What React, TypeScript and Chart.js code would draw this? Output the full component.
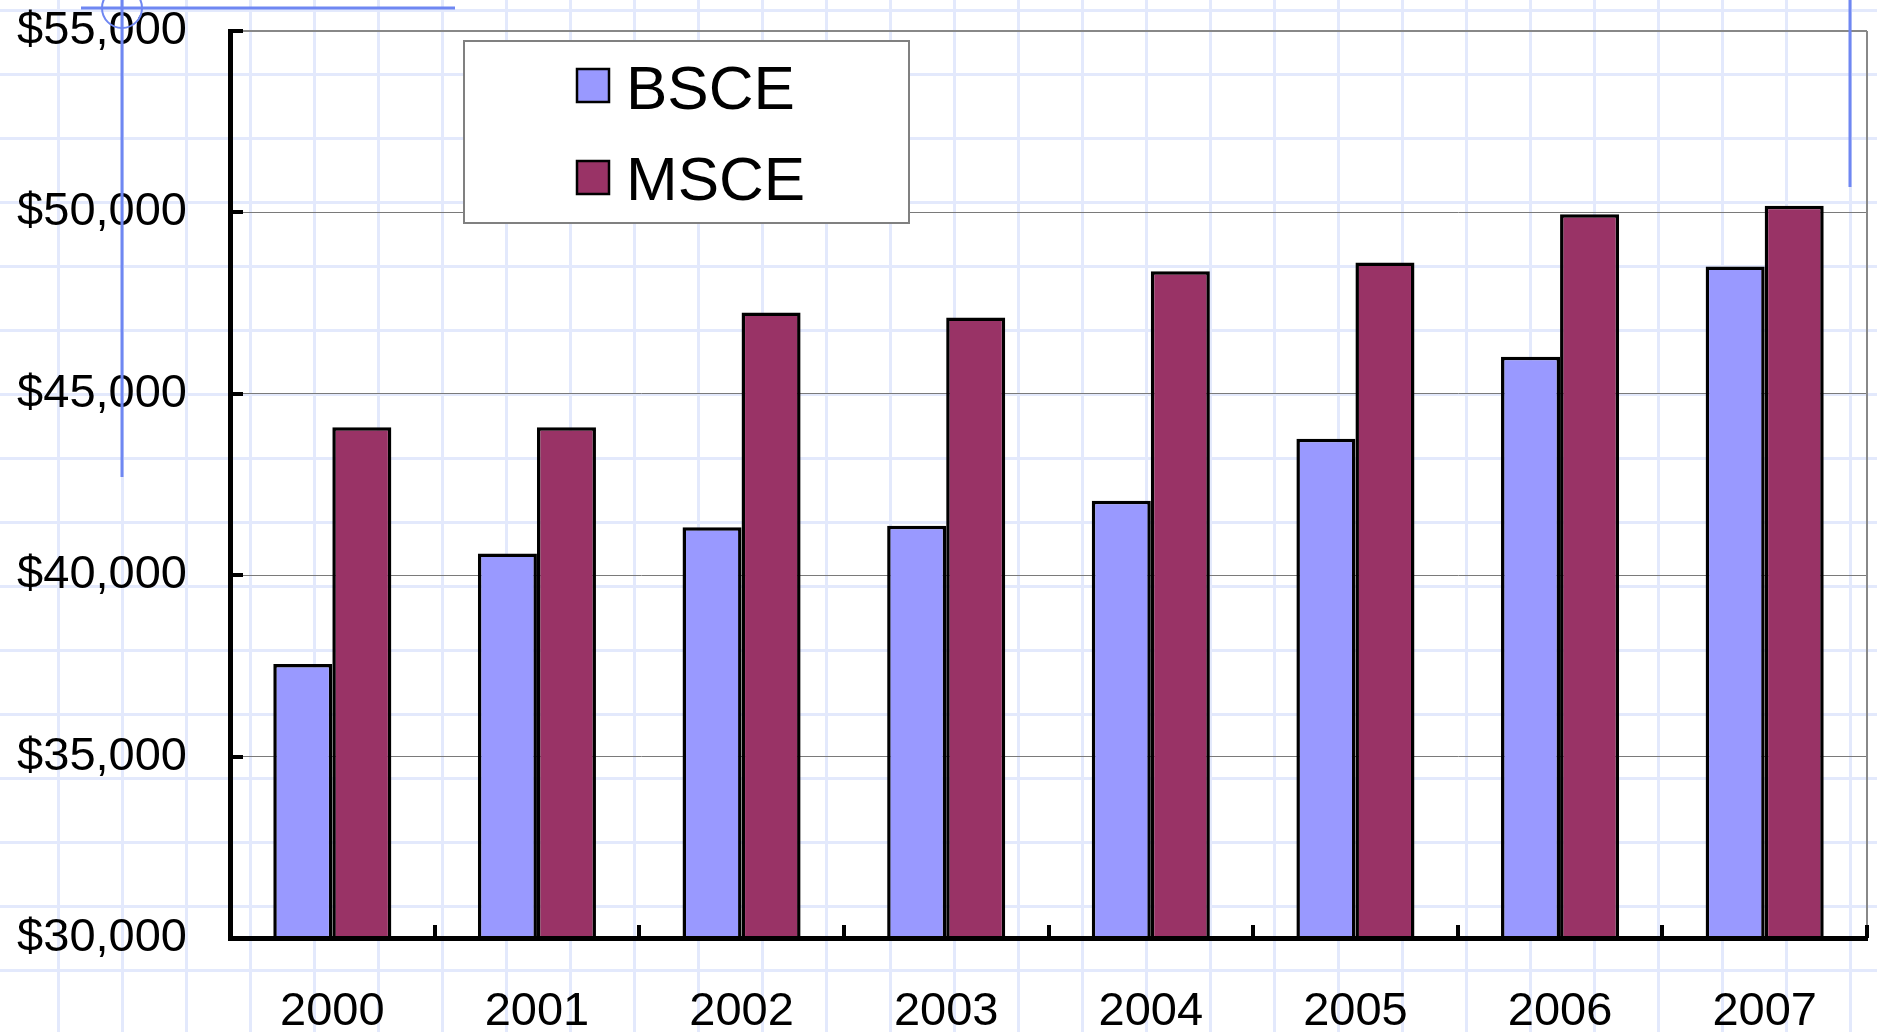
import React, { useEffect, useRef } from "react";
import { Chart, registerables } from "chart.js";

Chart.register(...registerables);

const years = ["2000", "2001", "2002", "2003", "2004", "2005", "2006", "2007"];
const seriesNames = ["BSCE", "MSCE"];
const bsceValues = [37550, 40600, 41320, 41360, 42050, 43760, 46020, 48510];
const msceValues = [44080, 44080, 47240, 47100, 48380, 48620, 49950, 50180];
const yMin = 30000;
const yMax = 55000;
const yStep = 5000;

const FONT = "'Liberation Sans', Arial, Helvetica, sans-serif";
const BLUE_LINE = "#6f87f2";

const framePlugin = {
  id: "frameDecor",
  afterDraw(chart: any) {
    const ctx = chart.ctx as CanvasRenderingContext2D;
    const area = chart.chartArea;
    const yScale = chart.scales.y;
    const n = chart.data.labels.length;
    ctx.save();
    // right gray border
    ctx.strokeStyle = "#888888";
    ctx.lineWidth = 2;
    ctx.beginPath();
    ctx.moveTo(area.right, area.top);
    ctx.lineTo(area.right, area.bottom);
    ctx.stroke();
    // y inward ticks
    ctx.fillStyle = "#000";
    for (let v = yMin; v <= yMax; v += yStep) {
      const y = Math.round(yScale.getPixelForValue(v));
      ctx.fillRect(area.left, y - 2, 13, 4);
    }
    // x upward ticks at category boundaries
    const w = (area.right - area.left) / n;
    for (let i = 1; i <= n; i++) {
      const x = Math.round(area.left + i * w);
      ctx.fillRect(x - 2, area.bottom - 13, 4, 13);
    }

    // legend box
    const lx = 464, ly = 41, lw = 445, lh = 182;
    ctx.fillStyle = "#ffffff";
    ctx.fillRect(lx, ly, lw, lh);
    ctx.strokeStyle = "#808080";
    ctx.lineWidth = 2;
    ctx.strokeRect(lx, ly, lw, lh);
    const ds = chart.data.datasets;
    const baselines = [109, 200];
    const markerTops = [69, 161];
    ctx.font = `62px ${FONT}`;
    ctx.textBaseline = "alphabetic";
    ctx.textAlign = "left";
    ds.forEach((d: any, i: number) => {
      ctx.fillStyle = d.backgroundColor;
      ctx.fillRect(577, markerTops[i], 32, 33);
      ctx.strokeStyle = "#000";
      ctx.lineWidth = 2.5;
      ctx.strokeRect(577, markerTops[i], 32, 33);
      ctx.fillStyle = "#000";
      ctx.fillText(d.label, 626, baselines[i]);
    });

    // blue decorative strokes
    ctx.strokeStyle = BLUE_LINE;
    ctx.lineWidth = 3;
    ctx.beginPath();
    ctx.moveTo(81, 8);
    ctx.lineTo(455, 8);
    ctx.stroke();
    ctx.beginPath();
    ctx.moveTo(122, 0);
    ctx.lineTo(122, 477);
    ctx.stroke();
    ctx.lineWidth = 2;
    ctx.beginPath();
    ctx.arc(122, 8, 20, 0, Math.PI * 2);
    ctx.stroke();
    ctx.lineWidth = 3;
    ctx.beginPath();
    ctx.moveTo(1850, 0);
    ctx.lineTo(1850, 187);
    ctx.stroke();
    ctx.restore();
  },
};

export default function App() {
  const canvasRef = useRef<HTMLCanvasElement | null>(null);

  useEffect(() => {
    const canvas = canvasRef.current;
    if (!canvas) return;
    const chart = new Chart(canvas, {
      type: "bar",
      data: {
        labels: years,
        datasets: [
          {
            label: seriesNames[0],
            data: bsceValues,
            backgroundColor: "#9999ff",
            borderColor: "#000000",
            borderWidth: 3.5,
            borderSkipped: false,
            categoryPercentage: 0.577,
            barPercentage: 1,
          },
          {
            label: seriesNames[1],
            data: msceValues,
            backgroundColor: "#993366",
            borderColor: "#000000",
            borderWidth: 3.5,
            borderSkipped: false,
            categoryPercentage: 0.577,
            barPercentage: 1,
          },
        ],
      },
      options: {
        responsive: false,
        animation: false,
        devicePixelRatio: 1,
        layout: { autoPadding: false, padding: { top: 31, right: 10, left: 0, bottom: 0 } },
        plugins: {
          legend: { display: false },
          tooltip: { enabled: false },
        },
        scales: {
          x: {
            grid: { display: true, drawOnChartArea: false, drawTicks: false },
            border: { display: true, color: "#000", width: 5, z: 1 },
            ticks: {
              color: "#000",
              font: { family: FONT, size: 47 },
              padding: 46,
              maxRotation: 0,
            },
            afterFit: (s: any) => {
              s.height = 94;
              s.paddingLeft = 0;
              s.paddingRight = 0;
            },
          },
          y: {
            min: yMin,
            max: yMax,
            grid: {
              drawTicks: false,
              color: (c: any) =>
                c.tick && c.tick.value === yMax ? "#888888" : c.tick && c.tick.value === yMin ? "rgba(0,0,0,0)" : "#7a7a7a",
              lineWidth: (c: any) => (c.tick && c.tick.value === yMax ? 2 : 1),
            },
            border: { display: true, color: "#000", width: 5, z: 1 },
            ticks: {
              stepSize: yStep,
              color: "#000",
              font: { family: FONT, size: 47 },
              padding: 43,
              callback: (v: any) => "$" + Number(v).toLocaleString("en-US"),
            },
            afterFit: (s: any) => {
              s.width = 230;
              s.paddingTop = 0;
              s.paddingBottom = 0;
            },
          },
        },
      },
      plugins: [framePlugin],
    });
    return () => chart.destroy();
  }, []);

  const gridColor = "#e3e9fc";
  return (
    <div
      style={{
        position: "fixed",
        left: 0,
        top: 0,
        width: 1877,
        height: 1032,
        backgroundColor: "#ffffff",
        backgroundImage: `linear-gradient(to right, ${gridColor} 3px, transparent 3px), linear-gradient(to bottom, ${gridColor} 3px, transparent 3px)`,
        backgroundSize: "64px 64px",
        backgroundPosition: "57px 9px",
        overflow: "hidden",
      }}
    >
      <canvas ref={canvasRef} width={1877} height={1032} style={{ display: "block", width: 1877, height: 1032 }} />
    </div>
  );
}
